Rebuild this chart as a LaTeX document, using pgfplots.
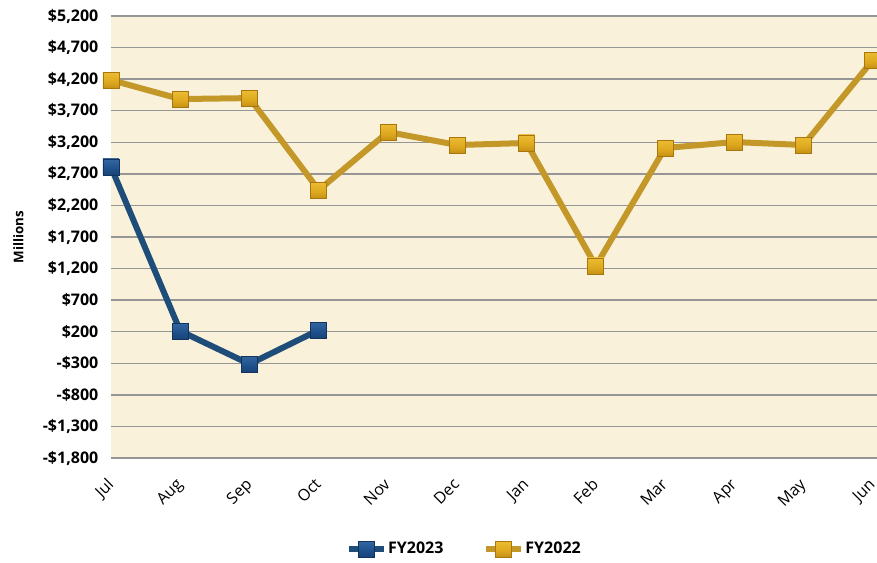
\documentclass[border=0pt]{standalone}
\usepackage{pgfplots}
\pgfplotsset{compat=1.18}
\usepackage{fontspec}
\setmainfont{Open Sans}

\definecolor{parch}{RGB}{250,241,218}
\definecolor{gridc}{RGB}{150,150,150}
\definecolor{fyblue}{RGB}{31,77,122}
\definecolor{fygold}{RGB}{196,152,40}
\definecolor{gldL}{RGB}{246,206,70}
\definecolor{gldM}{RGB}{222,168,30}
\definecolor{gldD}{RGB}{168,118,12}
\definecolor{bluL}{RGB}{70,120,180}
\definecolor{bluM}{RGB}{30,80,140}
\definecolor{bluD}{RGB}{18,52,92}

\pgfdeclareverticalshading{goldshade}{100bp}{color(0bp)=(gldD); color(45bp)=(gldM); color(100bp)=(gldL)}
\pgfdeclareverticalshading{blueshade}{100bp}{color(0bp)=(bluD); color(45bp)=(bluM); color(100bp)=(bluL)}

\pgfdeclareplotmark{goldsq}{%
  \pgfscope
  \pgfpathrectangle{\pgfpoint{-\pgfplotmarksize}{-\pgfplotmarksize}}{\pgfpoint{2\pgfplotmarksize}{2\pgfplotmarksize}}%
  \pgfshadepath{goldshade}{0}\pgfusepath{discard}%
  \endpgfscope
  \pgfpathrectangle{\pgfpoint{-\pgfplotmarksize}{-\pgfplotmarksize}}{\pgfpoint{2\pgfplotmarksize}{2\pgfplotmarksize}}%
  \pgfusepathqstroke}
\pgfdeclareplotmark{bluesq}{%
  \pgfscope
  \pgfpathrectangle{\pgfpoint{-\pgfplotmarksize}{-\pgfplotmarksize}}{\pgfpoint{2\pgfplotmarksize}{2\pgfplotmarksize}}%
  \pgfshadepath{blueshade}{0}\pgfusepath{discard}%
  \endpgfscope
  \pgfpathrectangle{\pgfpoint{-\pgfplotmarksize}{-\pgfplotmarksize}}{\pgfpoint{2\pgfplotmarksize}{2\pgfplotmarksize}}%
  \pgfusepathqstroke}

\begin{document}
\begin{tikzpicture}
\begin{axis}[
    at={(0,0)}, anchor=south west,
    scale only axis,
    width=574.5pt, height=331.5pt,
    xmin=0, xmax=11.06,
    ymin=-1800, ymax=5200,
    axis background/.style={fill=parch},
    axis line style={draw=none},
    axis lines*=left,
    tick style={draw=none},
    ymajorgrids,
    grid style={gridc, line width=1.1pt},
    ytick={-1800,-1300,-800,-300,200,700,1200,1700,2200,2700,3200,3700,4200,4700,5200},
    yticklabels={{-\$1,800},{-\$1,300},{-\$800},{-\$300},{\$200},{\$700},{\$1,200},{\$1,700},{\$2,200},{\$2,700},{\$3,200},{\$3,700},{\$4,200},{\$4,700},{\$5,200}},
    yticklabel style={font=\fontsize{12}{14}\selectfont\bfseries, xshift=-6pt},
    xtick={0,...,11},
    xticklabels={Jul,Aug,Sep,Oct,Nov,Dec,Jan,Feb,Mar,Apr,May,Jun},
    xticklabel style={font=\fontsize{12}{14}\selectfont, rotate=45, anchor=north east, inner sep=0pt, xshift=-12.7pt, yshift=-7.4pt},
    ylabel={\bfseries Millions},
    ylabel style={font=\fontsize{12}{14}\selectfont},
    every axis y label/.style={at={(axis description cs:-0.121,0.5)}, rotate=90, anchor=center},
    legend columns=2,
    legend style={at={(axis description cs:0.461,-0.206)}, anchor=center, draw=none, fill=none,
        font=\fontsize{12}{14}\selectfont\bfseries,
        nodes={inner xsep=1pt},
        /tikz/every even column/.append style={column sep=29pt}},
    legend image code/.code={
        \draw[#1, mark repeat=2, mark phase=2] plot coordinates {(0pt,0pt) (13pt,0pt) (26pt,0pt)};},
    clip=false,
]
\addplot[fyblue, line width=4.5pt, mark=bluesq, mark size=6pt,
    mark options={draw=bluD, line width=0.6pt}]
    coordinates {(0,2809) (1,211) (2,-312) (3,227)};
\addlegendentry{FY2023}
\addplot[fygold, line width=4.5pt, mark=goldsq, mark size=6pt,
    mark options={draw=gldD, line width=0.6pt}]
    coordinates {(0,4186) (1,3885) (2,3900) (3,2444) (4,3363) (5,3157) (6,3189) (7,1241) (8,3109) (9,3204) (10,3157) (11,4503)};
\addlegendentry{FY2022}
\end{axis}
\pgfresetboundingbox
\path[use as bounding box] (-83.25pt,-78pt) rectangle (574.5pt,343.5pt);
\end{tikzpicture}
\end{document}
